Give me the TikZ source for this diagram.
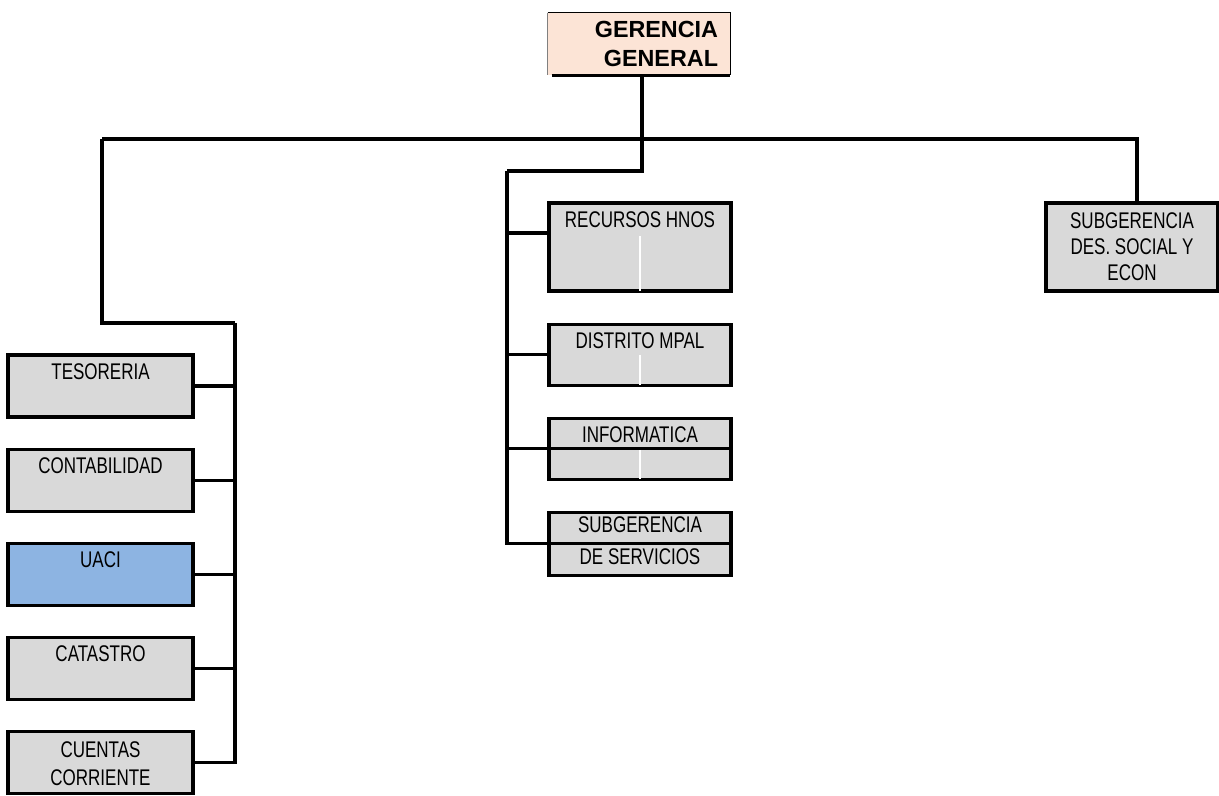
\documentclass[tikz,border=0pt]{standalone}
\usepackage{fontspec}
\setmainfont{Liberation Sans}[FakeStretch=0.75]
\newfontfamily\headfont{Liberation Sans}
\usetikzlibrary{positioning}
\definecolor{cellgray}{HTML}{D9D9D9}
\definecolor{uaciblue}{HTML}{8DB4E2}
\definecolor{headpeach}{HTML}{FCE4D6}

\begin{document}
\begin{tikzpicture}
[x=0.75pt, y=-0.75pt,
every node/.style = {font=\fontsize{17}{20}\selectfont},
conn/.style = {line width=2.3pt}]
\tikzstyle{unit} = [rectangle, draw=black, line width=2.3pt, fill=cellgray, inner xsep=0pt, inner ysep=0pt, text height=18pt]
\tikzstyle{dept} = [unit, minimum width=138.75pt, text depth=28.5pt]
\tikzstyle{office} = [unit, minimum width=136.5pt, text depth=27.75pt]
\tikzstyle{twoline} = [rectangle, draw=black, line width=2.3pt, fill=cellgray, align=center, inner sep=0pt]

\useasboundingbox (0,0) rectangle (1219,795);

% gerencia
\node[rectangle, fill=headpeach, minimum height=46.5pt, inner xsep=9pt, text width=118.5pt, align=right,
  font=\headfont\bfseries\fontsize{17.5}{22}\selectfont] (gg) at (639,44) {GERENCIA\\GENERAL};
\draw[line width=1pt] (gg.north west) -- (gg.north east) -- (gg.south east);
\draw[gray, line width=0.8pt] (gg.north west) -- (gg.south west);
\draw[conn] ([xshift=3pt]gg.south west) -- (gg.south east);

% middle column
\node[office, text depth=48pt] (rrhh) at (640,247) {RECURSOS HNOS};
\node[office, below=22.5pt of rrhh] (distrito) {DISTRITO MPAL};
\node[office, below=22.5pt of distrito] (info) {INFORMATICA};
\node[twoline, minimum width=136.5pt, text height=39pt, text depth=8.25pt, below=22.5pt of info,
  font=\fontsize{17}{24}\selectfont] (sgserv) {SUBGERENCIA\\DE SERVICIOS};

% right
\node[twoline, minimum width=129pt, text height=57.75pt, text depth=8.25pt,
  font=\fontsize{17}{19.5}\selectfont] (sgdes) at (1132,247) {SUBGERENCIA\\DES. SOCIAL Y\\ECON};

% left column
\node[dept] (teso) at (100.5,386) {TESORERIA};
\node[dept, below=21.75pt of teso] (conta) {CONTABILIDAD};
\node[dept, fill=uaciblue, below=21.75pt of conta] (uaci) {UACI};
\node[dept, below=21.75pt of uaci] (catastro) {CATASTRO};
\node[twoline, minimum width=138.75pt, text height=40.5pt, text depth=6pt, below=21.75pt of catastro,
  font=\fontsize{17}{21}\selectfont] (cuentas) {CUENTAS\\CORRIENTE};

% cell marks
\draw[conn] (info.west) -- (info.east);
\draw[conn] ([yshift=0.5pt]sgserv.west) -- ([yshift=0.5pt]sgserv.east);
\draw[white, line width=0.8pt] ([yshift=8pt]rrhh.center) -- ([yshift=1.2pt]rrhh.south);
\draw[white, line width=0.8pt] (distrito.center) -- ([yshift=1.2pt]distrito.south);
\draw[white, line width=0.8pt] ([yshift=-1.2pt]info.center) -- ([yshift=1.2pt]info.south);

% lines
\coordinate (midhub) at (507,171);
\coordinate (lefthub) at (102,139);
\coordinate (leftbus) at (235,323);

\draw[conn] ([xshift=2.25pt]gg.south) |- (midhub);
\draw[conn] (midhub) |- ([yshift=10.5pt]rrhh.west);
\draw[conn] (midhub) |- (distrito.west);
\draw[conn] (midhub) |- (info.west);
\draw[conn] (midhub) |- ([yshift=0.5pt]sgserv.west);

\draw[conn] ([xshift=3.75pt]sgdes.north) |- (lefthub);
\draw[conn] (lefthub) |- (leftbus);
\draw[conn] (leftbus) |- (teso.east);
\draw[conn] (leftbus) |- (conta.east);
\draw[conn] (leftbus) |- (uaci.east);
\draw[conn] (leftbus) |- (catastro.east);
\draw[conn] (leftbus) |- (cuentas.east);

\end{tikzpicture}
\end{document}
